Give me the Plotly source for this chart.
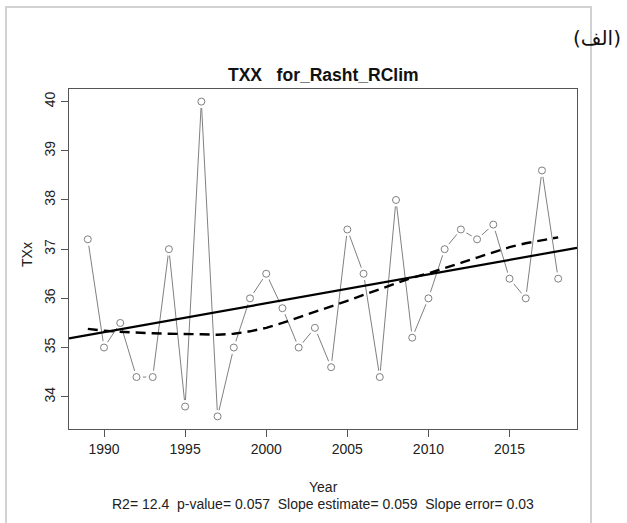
import numpy as np
import plotly.graph_objects as go

# ---- data ----
years = list(range(1989, 2019))
txx = [37.2, 35.0, 35.5, 34.4, 34.4, 37.0, 33.8, 40.0, 33.6, 35.0,
       36.0, 36.5, 35.8, 35.0, 35.4, 34.6, 37.4, 36.5, 34.4, 38.0,
       35.2, 36.0, 37.0, 37.4, 37.2, 37.5, 36.4, 36.0, 38.6, 36.4]
loess_fit = [35.38, 35.34, 35.32, 35.30, 35.29, 35.28, 35.28, 35.27, 35.26, 35.28,
             35.33, 35.40, 35.50, 35.61, 35.72, 35.84, 35.95, 36.07, 36.19, 36.31,
             36.42, 36.51, 36.61, 36.72, 36.83, 36.94, 37.04, 37.12, 37.18, 37.24]
x_ticks = [1990, 1995, 2000, 2005, 2010, 2015]
y_ticks = [34, 35, 36, 37, 38, 39, 40]

title_text = "TXX\u00a0\u00a0\u00a0for_Rasht_RClim"
sub_text = ("R2=\u00a012.4\u00a0\u00a0p-value=\u00a00.057\u00a0\u00a0Slope\u00a0estimate=\u00a00.059"
            "\u00a0\u00a0Slope\u00a0error=\u00a00.03")
corner_label = "(الف)"

# R-style axis ranges (4% padding)
xr = [min(years) - 0.04 * (max(years) - min(years)), max(years) + 0.04 * (max(years) - min(years))]
yr = [min(txx) - 0.04 * (max(txx) - min(txx)), max(txx) + 0.04 * (max(txx) - min(txx))]

slope, intercept = np.polyfit(years, txx, 1)
reg_x = xr
reg_y = [intercept + slope * v for v in reg_x]

FONT = "Liberation Sans, Arial, sans-serif"
GRAY = "#808080"

fig = go.Figure()
fig.add_trace(go.Scatter(x=years, y=txx, mode="lines",
                         line=dict(color=GRAY, width=1), hoverinfo="skip"))
fig.add_trace(go.Scatter(x=years, y=txx, mode="markers",
                         marker=dict(color="white", size=13, line=dict(width=0)),
                         hoverinfo="skip"))
fig.add_trace(go.Scatter(x=years, y=txx, mode="markers",
                         marker=dict(color="white", size=7, symbol="circle",
                                     line=dict(color=GRAY, width=1))))
fig.add_trace(go.Scatter(x=reg_x, y=reg_y, mode="lines",
                         line=dict(color="black", width=2.2)))
fig.add_trace(go.Scatter(x=years, y=loess_fit, mode="lines",
                         line=dict(color="black", width=2.4, dash="10px,6px")))

L, R, T, B = 69, 50, 89, 94
W, H = 627, 523
pw, ph = W - L - R, H - T - B

def px_x(p):
    return (p - L) / pw

def px_y(p):
    return (H - B - p) / ph

fig.update_layout(
    width=W, height=H,
    margin=dict(l=L, r=R, t=T, b=B),
    paper_bgcolor="white", plot_bgcolor="white",
    showlegend=False,
    font=dict(family=FONT, size=14, color="#222222"),
    xaxis=dict(range=xr, tickvals=x_ticks, ticks="outside", ticklen=7, tickwidth=1,
               tickcolor="#555555", showline=True, linecolor="#555555", linewidth=1,
               mirror=True, showgrid=False, zeroline=False,
               tickfont=dict(family=FONT, size=14, color="#222222")),
    yaxis=dict(range=yr, tickvals=y_ticks, ticks="outside", ticklen=7, tickwidth=1,
               tickcolor="#555555", showline=True, linecolor="#555555", linewidth=1,
               mirror=True, showgrid=False, zeroline=False, tickangle=-90,
               tickfont=dict(family=FONT, size=14, color="#222222")),
    shapes=[dict(type="rect", xref="paper", yref="paper",
                 x0=px_x(6), x1=px_x(591), y0=px_y(540), y1=px_y(7),
                 line=dict(color="#d2d2d2", width=2), fillcolor="rgba(0,0,0,0)")],
    annotations=[
        dict(text="<b>" + title_text + "</b>", xref="paper", yref="paper",
             x=0.5, y=px_y(75), xanchor="center", yanchor="middle", showarrow=False,
             font=dict(family=FONT, size=17.5, color="#111111")),
        dict(text=corner_label, xref="paper", yref="paper",
             x=px_x(597), y=px_y(38), xanchor="center", yanchor="middle", showarrow=False,
             font=dict(family="DejaVu Sans, Noto Sans, sans-serif", size=20, color="#111111")),
        dict(text="TXx", xref="paper", yref="paper", textangle=-90,
             x=px_x(27), y=px_y(255), xanchor="center", yanchor="middle", showarrow=False,
             font=dict(family=FONT, size=14, color="#222222")),
        dict(text="Year", xref="paper", yref="paper",
             x=0.5, y=px_y(487), xanchor="center", yanchor="middle", showarrow=False,
             font=dict(family=FONT, size=14, color="#222222")),
        dict(text=sub_text, xref="paper", yref="paper",
             x=0.5, y=px_y(504), xanchor="center", yanchor="middle", showarrow=False,
             font=dict(family=FONT, size=14, color="#222222")),
    ],
)

fig.write_html("out.html")
